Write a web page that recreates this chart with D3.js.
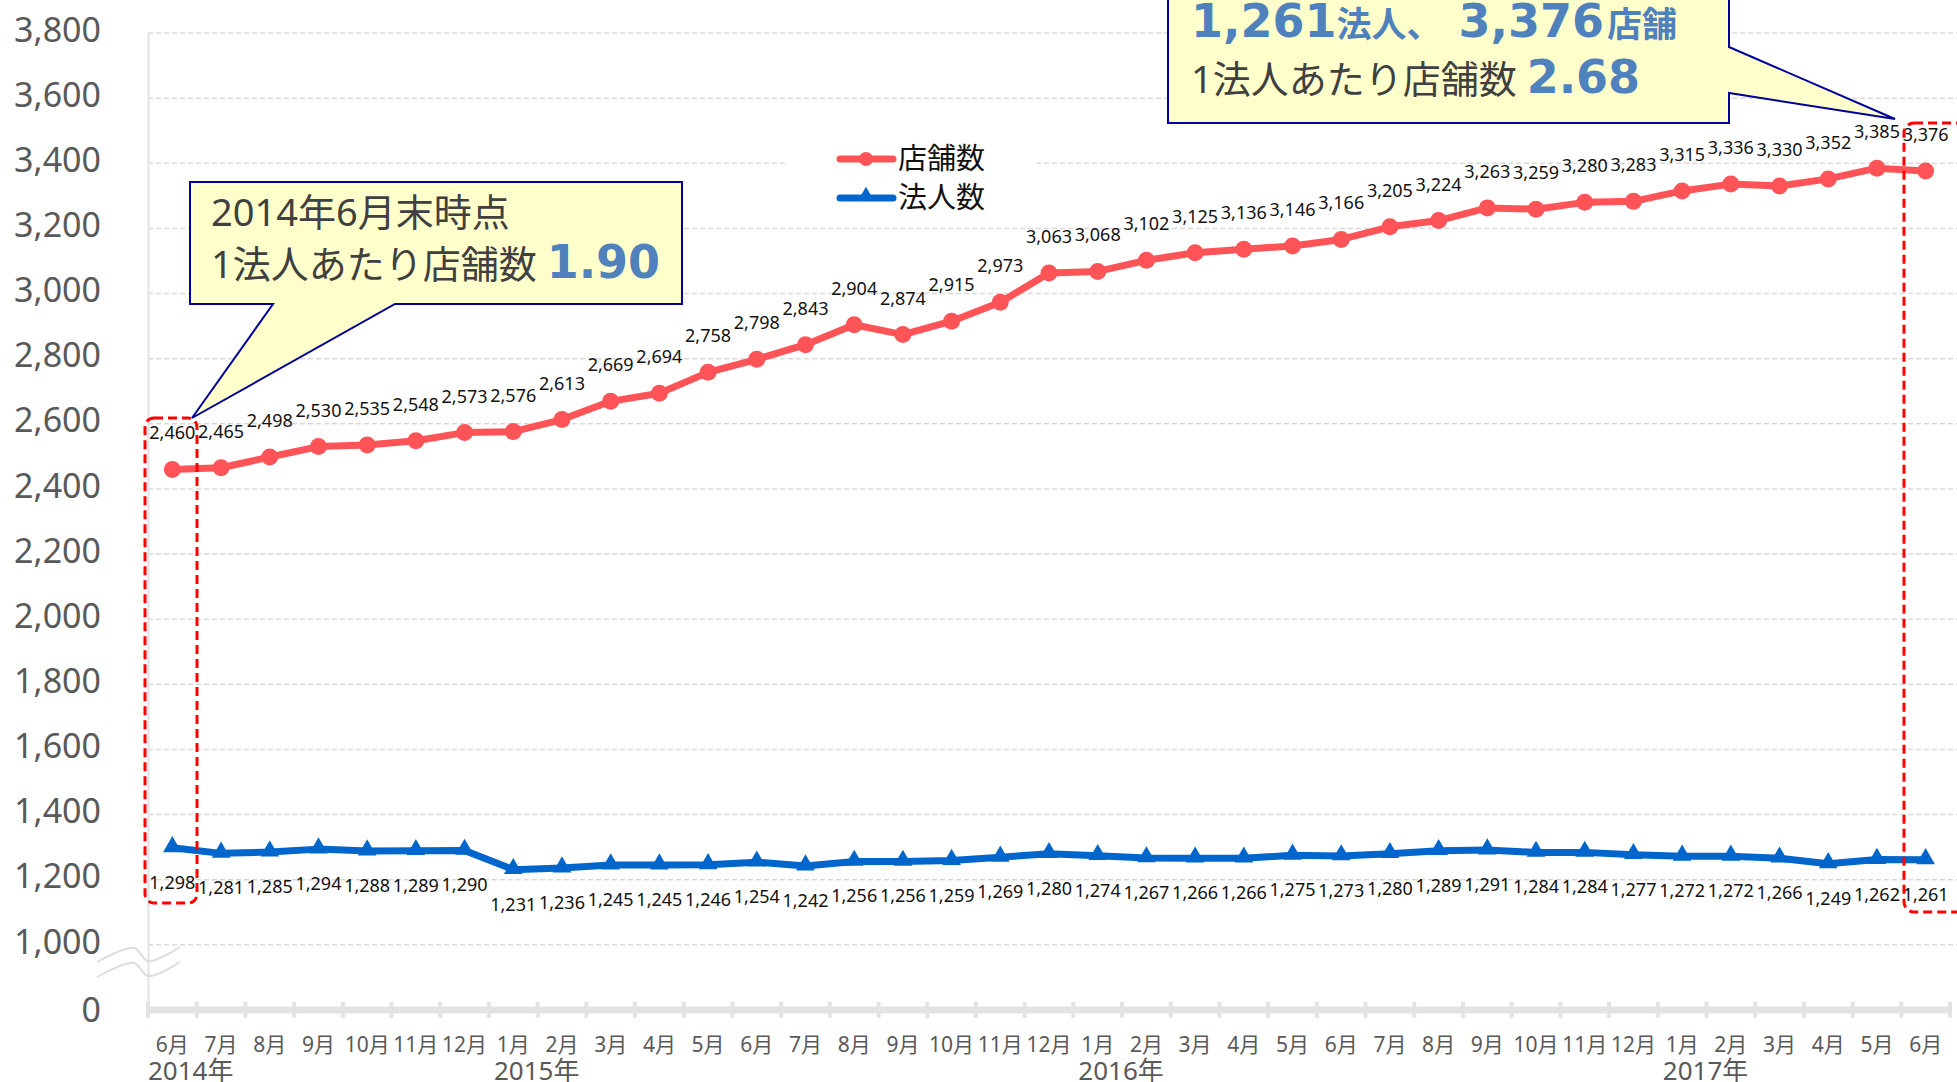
<!DOCTYPE html>
<html>
<head>
<meta charset="utf-8">
<script src="https://d3js.org/d3.v7.min.js"></script>
<style>
  html, body { margin: 0; padding: 0; background: #fff; }
  svg { display: block; }
</style>
</head>
<body>
<svg id="chart" width="1957" height="1082"></svg>
<script>
// ---------- data ----------
const months = ["6月","7月","8月","9月","10月","11月","12月",
  "1月","2月","3月","4月","5月","6月","7月","8月","9月","10月","11月","12月",
  "1月","2月","3月","4月","5月","6月","7月","8月","9月","10月","11月","12月",
  "1月","2月","3月","4月","5月","6月"];
const yearLabels = ["2014年","2015年","2016年","2017年"];
const yearStartIndex = [0, 7, 19, 31];
const stores = [2460,2465,2498,2530,2535,2548,2573,2576,2613,2669,2694,2758,2798,2843,2904,2874,2915,2973,
  3063,3068,3102,3125,3136,3146,3166,3205,3224,3263,3259,3280,3283,3315,3336,3330,3352,3385,3376];
const corps = [1298,1281,1285,1294,1288,1289,1290,1231,1236,1245,1245,1246,1254,1242,1256,1256,1259,1269,
  1280,1274,1267,1266,1266,1275,1273,1280,1289,1291,1284,1284,1277,1272,1272,1266,1249,1262,1261];
const yTicks = [800,1000,1200,1400,1600,1800,2000,2200,2400,2600,2800,3000,3200,3400,3600,3800];
const seriesNames = ["店舗数","法人数"];

// ---------- setup ----------
const svg = d3.select("#chart");
const FONT = "'Noto Sans', 'Noto Sans CJK JP', sans-serif";
const BIGNUM = "'DejaVu Sans', 'Noto Sans CJK JP', sans-serif";
const RED = "#FF5457", BLUE = "#0066CC", CALLBLUE = "#4F81BD";

const x = d3.scaleBand().domain(d3.range(months.length)).range([148, 1950]).padding(0);
const y = d3.scaleLinear().domain([800, 3800]).range([1010, 33]);
const cx = i => x(i) + x.bandwidth() / 2;

// gridlines
svg.append("g").selectAll("line").data(yTicks.filter(t => t >= 1000)).join("line")
  .attr("x1", 148).attr("x2", 1957)
  .attr("y1", d => y(d)).attr("y2", d => y(d))
  .attr("stroke", "#d9d9d9").attr("stroke-width", 1.5).attr("stroke-dasharray", "5,3");

// y axis line
svg.append("line").attr("x1", 148.5).attr("x2", 148.5).attr("y1", y(3800)).attr("y2", y(800))
  .attr("stroke", "#e3e3e3").attr("stroke-width", 2);

// y axis labels through d3 axis
const yAxis = d3.axisLeft(y).tickValues(yTicks).tickSize(0).tickPadding(0)
  .tickFormat(d => d === 800 ? "0" : d3.format(",")(d));
const gy = svg.append("g").attr("transform", "translate(101,0)").call(yAxis);
gy.select(".domain").remove();
gy.selectAll("text").attr("font-family", FONT).attr("font-size", 34).attr("fill", "#595959")
  .attr("dy", d => d === 800 ? "0.35em" : "0.24em");

// axis break symbol
const wave = d3.line().curve(d3.curveCatmullRom);
[0, 15].forEach(off => {
  svg.append("path")
    .attr("d", wave([[97, 962 + off], [134, 948 + off], [148, 961 + off], [180, 947 + off]]))
    .attr("fill", "none").attr("stroke", "#dcdcdc").attr("stroke-width", 2);
});

// x axis line + ticks
svg.append("line").attr("x1", 148).attr("x2", 1950).attr("y1", 1010).attr("y2", 1010)
  .attr("stroke", "#e3e3e3").attr("stroke-width", 7);
svg.append("g").selectAll("line").data(d3.range(months.length + 1)).join("line")
  .attr("x1", i => i < months.length ? x(i) : 1950).attr("x2", i => i < months.length ? x(i) : 1950)
  .attr("y1", 1002).attr("y2", 1018)
  .attr("stroke", "#e3e3e3").attr("stroke-width", 4);

// x axis labels (months) via d3 axis
const xAxis = d3.axisBottom(x).tickSize(0).tickPadding(0).tickFormat(i => months[i]);
const gx = svg.append("g").attr("transform", "translate(0,1052)").call(xAxis);
gx.select(".domain").remove();
gx.selectAll("text").attr("font-family", FONT).attr("font-size", 21).attr("fill", "#595959")
  .attr("dy", 0);

// year labels
svg.append("g").selectAll("text").data(yearLabels).join("text")
  .attr("x", (d, i) => x(yearStartIndex[i]) + (i === 0 ? 0 : 5))
  .attr("y", 1080)
  .attr("font-family", FONT).attr("font-size", 26).attr("fill", "#595959")
  .text(d => d);

// lines
const lineGen = d3.line().x((d, i) => cx(i)).y(d => y(d));
svg.append("path").datum(stores).attr("d", lineGen)
  .attr("fill", "none").attr("stroke", RED).attr("stroke-width", 7).attr("stroke-linejoin", "round");
svg.append("path").datum(corps).attr("d", lineGen)
  .attr("fill", "none").attr("stroke", BLUE).attr("stroke-width", 7).attr("stroke-linejoin", "round");

// markers
svg.append("g").selectAll("circle").data(stores).join("circle")
  .attr("cx", (d, i) => cx(i)).attr("cy", d => y(d)).attr("r", 8.5).attr("fill", RED);
const tri = d3.symbol().type(d3.symbolTriangle).size(150);
svg.append("g").selectAll("path").data(corps).join("path")
  .attr("d", tri).attr("transform", (d, i) => `translate(${cx(i)},${y(d) - 1})`).attr("fill", BLUE);

// data labels
const fmt = d3.format(",");
svg.append("g").selectAll("text").data(stores).join("text")
  .attr("x", (d, i) => cx(i)).attr("y", d => y(d) - 30)
  .attr("text-anchor", "middle").attr("font-family", FONT).attr("font-size", 18).attr("fill", "#111")
  .text(d => fmt(d));
svg.append("g").selectAll("text").data(corps).join("text")
  .attr("x", (d, i) => cx(i)).attr("y", d => y(d) + 41)
  .attr("text-anchor", "middle").attr("font-family", FONT).attr("font-size", 18).attr("fill", "#111")
  .text(d => fmt(d));

// legend
const lg = svg.append("g");
lg.append("rect").attr("x", 785).attr("y", 134).attr("width", 252).attr("height", 86).attr("fill", "#fff");
[RED, BLUE].forEach((c, k) => {
  const ly = 159 + k * 39;
  lg.append("line").attr("x1", 840).attr("x2", 893).attr("y1", ly).attr("y2", ly)
    .attr("stroke", c).attr("stroke-width", 7).attr("stroke-linecap", "round");
  if (k === 0) lg.append("circle").attr("cx", 866).attr("cy", ly).attr("r", 7).attr("fill", c);
  else lg.append("path").attr("d", d3.symbol().type(d3.symbolTriangle).size(110))
    .attr("transform", `translate(866,${ly - 2})`).attr("fill", c);
  lg.append("text").attr("x", 898).attr("y", ly).attr("dy", "0.36em")
    .attr("font-family", FONT).attr("font-size", 29).attr("fill", "#111").text(seriesNames[k]);
});

// callouts
svg.append("path")
  .attr("d", "M190,182 H682 V304 H395 L192,418 L273,304 H190 Z")
  .attr("fill", "#FFFFCC").attr("stroke", "#000099").attr("stroke-width", 2);
svg.append("text").attr("font-family", FONT).attr("fill", "#404040")
  .attr("x", 211).attr("y", 226).attr("font-size", 38).text("2014年6月末時点");
const t1b = svg.append("text").attr("font-family", FONT).attr("fill", "#404040").attr("x", 211).attr("y", 278);
t1b.append("tspan").attr("font-size", 38).text("1法人あたり店舗数 ");
t1b.append("tspan").attr("font-family", BIGNUM).attr("font-size", 46).attr("font-weight", "bold")
  .attr("fill", CALLBLUE).text("1.90");

svg.append("path")
  .attr("d", "M1168,-10 H1729 V47 L1895,119 L1729,93 V123 H1168 Z")
  .attr("fill", "#FFFFCC").attr("stroke", "#000099").attr("stroke-width", 2);
const t2 = svg.append("text").attr("fill", CALLBLUE).attr("font-weight", "bold")
  .attr("x", 1191).attr("y", 37);
t2.append("tspan").attr("font-family", BIGNUM).attr("font-size", 46).text(fmt(corps[corps.length - 1]));
t2.append("tspan").attr("font-family", FONT).attr("font-size", 35).text("法人、");
t2.append("tspan").attr("font-family", BIGNUM).attr("font-size", 46).attr("dx", 17)
  .text(fmt(stores[stores.length - 1]));
t2.append("tspan").attr("font-family", FONT).attr("font-size", 35).attr("dx", 3).text("店舗");
const t2b = svg.append("text").attr("font-family", FONT).attr("fill", "#404040").attr("x", 1191).attr("y", 93);
t2b.append("tspan").attr("font-size", 38).text("1法人あたり店舗数 ");
t2b.append("tspan").attr("font-family", BIGNUM).attr("font-size", 46).attr("font-weight", "bold")
  .attr("fill", CALLBLUE)
  .text((stores[stores.length - 1] / corps[corps.length - 1]).toFixed(2));

// red dashed highlight boxes
svg.append("rect").attr("x", 145).attr("y", 418).attr("width", 52).attr("height", 485)
  .attr("rx", 9).attr("fill", "none").attr("stroke", "#FF0000").attr("stroke-width", 3)
  .attr("stroke-dasharray", "9,5");
svg.append("rect").attr("x", 1904).attr("y", 123).attr("width", 70).attr("height", 789)
  .attr("rx", 10).attr("fill", "none").attr("stroke", "#FF0000").attr("stroke-width", 3)
  .attr("stroke-dasharray", "9,5");
</script>
</body>
</html>
